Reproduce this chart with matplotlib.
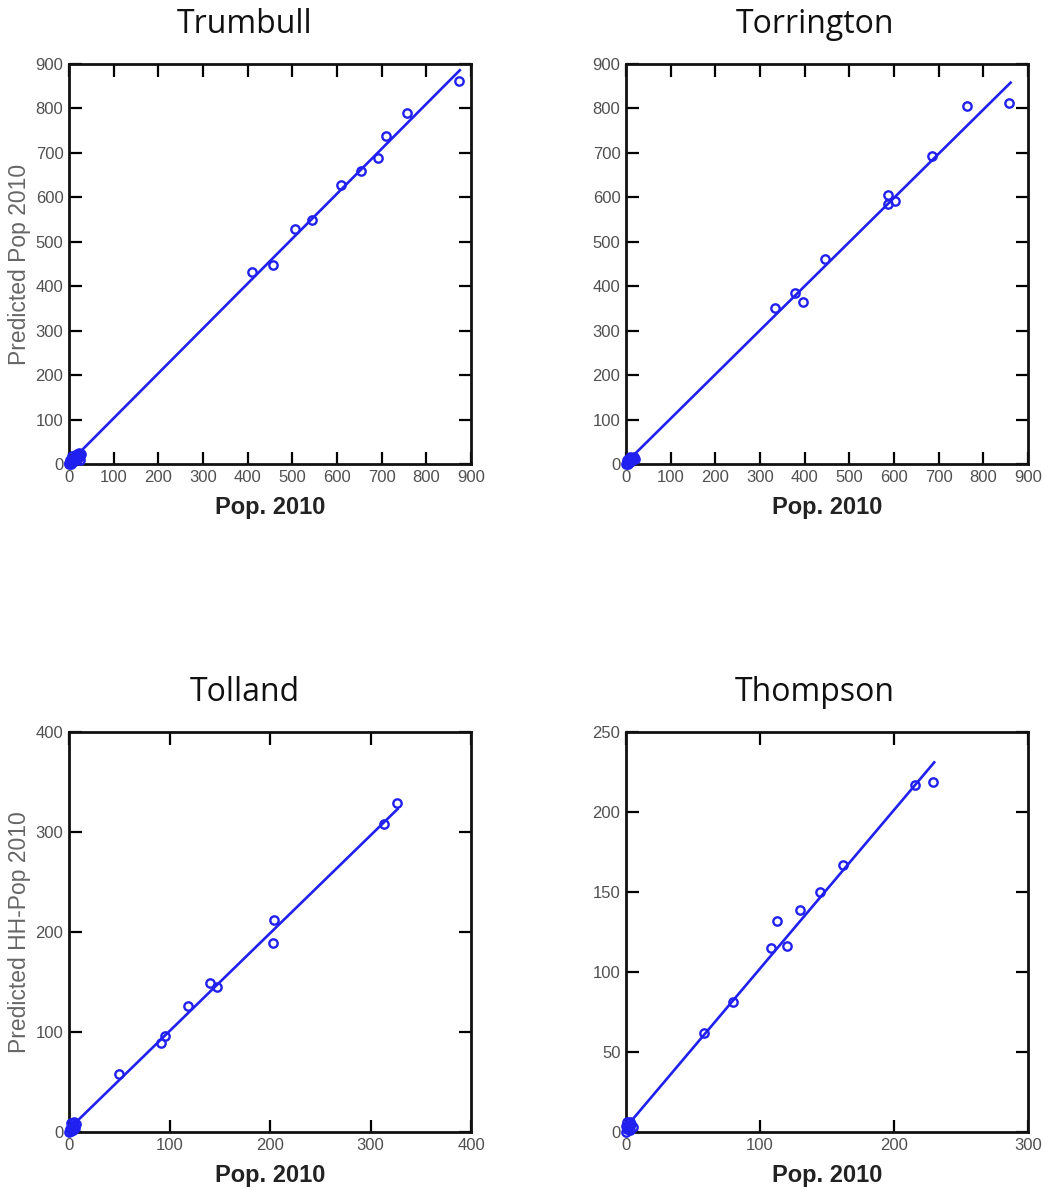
import numpy as np
import matplotlib
matplotlib.use("Agg")
import matplotlib.pyplot as plt

# ---- data -------------------------------------------------------------
towns = ["Trumbull", "Torrington", "Tolland", "Thompson"]

trumbull_pop = [0, 1, 3, 5, 6, 8, 10, 12, 14, 15, 18, 20, 22, 24, 25, 26, 2, 7,
                409, 456, 505, 545, 610, 654, 692, 709, 757, 874]
trumbull_pred = [0, 2, 4, 1, 8, 5, 12, 9, 16, 20, 22, 14, 25, 18, 8, 22, 10, 18,
                 431, 448, 529, 549, 628, 660, 688, 738, 790, 862]
trumbull_fit_x = [0, 875]
trumbull_fit_y = [2, 886]

torrington_pop = [0, 2, 4, 6, 8, 10, 12, 14, 16, 18, 20, 3, 9,
                  334, 378, 396, 446, 587, 587, 602, 684, 764, 858]
torrington_pred = [0, 3, 1, 6, 4, 10, 7, 14, 11, 16, 12, 8, 15,
                   352, 385, 365, 462, 605, 584, 592, 693, 805, 813]
torrington_fit_x = [0, 861]
torrington_fit_y = [3, 858]

tolland_pop = [0, 1, 2, 3, 4, 5, 6, 7, 2, 5,
               50, 92, 96, 118, 140, 147, 203, 204, 313, 326]
tolland_pred = [0, 3, 1, 5, 2, 7, 4, 8, 9, 10,
                58, 89, 96, 126, 149, 145, 189, 212, 308, 329]
tolland_fit_x = [0, 327]
tolland_fit_y = [3, 323]

thompson_pop = [0, 1, 2, 3, 4, 5, 1, 3, 0,
                58, 80, 108, 113, 120, 130, 145, 162, 216, 229]
thompson_pred = [0, 2, 4, 1, 5, 3, 6, 6, 4,
                 62, 81, 115, 132, 116, 139, 150, 167, 217, 219]
thompson_fit_x = [0, 230]
thompson_fit_y = [3, 231]

x_label = "Pop. 2010"
y_labels = ["Predicted Pop 2010", None, "Predicted HH-Pop 2010", None]

x_ticks = [np.arange(0, 901, 100), np.arange(0, 901, 100),
           np.arange(0, 401, 100), np.arange(0, 301, 100)]
y_ticks = [np.arange(0, 901, 100), np.arange(0, 901, 100),
           np.arange(0, 401, 100), np.arange(0, 251, 50)]

series = [
    (trumbull_pop, trumbull_pred, trumbull_fit_x, trumbull_fit_y),
    (torrington_pop, torrington_pred, torrington_fit_x, torrington_fit_y),
    (tolland_pop, tolland_pred, tolland_fit_x, tolland_fit_y),
    (thompson_pop, thompson_pred, thompson_fit_x, thompson_fit_y),
]

# ---- style ------------------------------------------------------------
W, H = 1045, 1190
plt.rcParams["font.family"] = ["Liberation Sans", "DejaVu Sans"]
blue = "#2020f0"
tick_gray = "#505050"

fig = plt.figure(figsize=(W / 100, H / 100), dpi=100)

# panel boxes in pixels: left, top, right, bottom
boxes = [(69, 64, 471, 464), (626, 64, 1028, 464),
         (69, 732, 471, 1132), (626, 732, 1028, 1132)]
title_pos = [(245, 33), (815, 33), (245, 701), (815, 701)]

for i, (l, t, r, b) in enumerate(boxes):
    ax = fig.add_axes([l / W, 1 - b / H, (r - l) / W, (b - t) / H])
    xs, ys, fx, fy = series[i]
    ax.plot(fx, fy, color=blue, lw=1.9, zorder=2)
    ax.plot(xs, ys, linestyle="none", marker="o", ms=6, mfc="none",
            mec=blue, mew=1.7, zorder=3, clip_on=False)

    xt, yt = x_ticks[i], y_ticks[i]
    ax.set_xlim(xt[0], xt[-1])
    ax.set_ylim(yt[0], yt[-1])
    ax.set_xticks(xt)
    ax.set_yticks(yt)
    ax.tick_params(direction="in", length=9, width=1.6, top=True, right=True,
                   labelsize=12, labelcolor=tick_gray, pad=4)
    for s in ax.spines.values():
        s.set_linewidth(2.0)
        s.set_color("#111111")

    ax.set_xlabel(x_label, fontsize=17, fontweight="bold", color="#222222",
                  labelpad=8)
    if y_labels[i]:
        ax.set_ylabel(y_labels[i], fontsize=16.5, color="#666666", labelpad=3)

    tx, ty = title_pos[i]
    fig.text(tx / W, 1 - ty / H, towns[i], ha="center", va="baseline",
             fontsize=23, family=["Open Sans", "DejaVu Sans"], color="#111111")

fig.savefig("out.png", dpi=100, facecolor="white")
